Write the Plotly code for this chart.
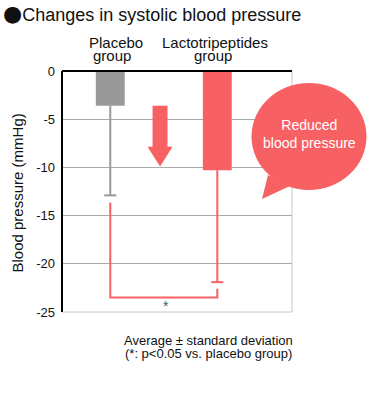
import plotly.graph_objects as go

# ---- data ----
groups = ["Placebo group", "Lactotripeptides group"]
group_line1 = ["Placebo", "Lactotripeptides"]
group_line2 = ["group", "group"]
mean_change = [-3.6, -10.3]
sd_change = [9.3, 11.6]
y_ticks = [0, -5, -10, -15, -20, -25]
bubble_text = "Reduced<br>blood pressure"
title_text = ("<span style='font-family:DejaVu Sans;font-size:22px'>●</span>"
              "Changes in systolic blood pressure")
y_title = "Blood pressure (mmHg)"
note_lines = ["Average ± standard deviation", "(*: p<0.05 vs. placebo group)"]
sig_mark = "*"

RED = "#F86163"
GRAY = "#999999"
FONT = "Liberation Sans, Arial, Helvetica, sans-serif"

W, H = 370, 400
PL, PR, PT, PB = 62, 292, 71, 312          # plot box in pixels
ML, MT = PL, PT
PW, PH = PR - PL, PB - PT
MR, MB = W - ML - PW, H - MT - PH


def px_x(px):
    return (px - PL) / PW


def px_y(py):
    return (PB - py) / PH


fig = go.Figure()
bar_colors = [GRAY, RED]
cap_half = 0.056
for i in range(2):
    fig.add_trace(go.Bar(
        x=[i], y=[mean_change[i]], width=0.27,
        marker=dict(color=bar_colors[i], line=dict(width=0)),
        name=groups[i], hoverinfo="skip", showlegend=False,
    ))
    low = mean_change[i] - sd_change[i]
    fig.add_trace(go.Scatter(
        x=[i, i, None, i - cap_half, i + cap_half],
        y=[mean_change[i], low, None, low, low],
        mode="lines", line=dict(color=bar_colors[i], width=2),
        hoverinfo="skip", showlegend=False,
    ))

# significance bracket (from error-bar ends)
low0 = mean_change[0] - sd_change[0]
low1 = mean_change[1] - sd_change[1]
bracket_bottom = -23.5
fig.add_trace(go.Scatter(
    x=[0, 0, 1, 1],
    y=[low0 - 0.75, bracket_bottom, bracket_bottom, low1 - 0.7],
    mode="lines", line=dict(color=RED, width=2),
    hoverinfo="skip", showlegend=False,
))

shapes = []
# plot frame
shapes.append(dict(type="line", xref="paper", yref="paper", x0=1, x1=1, y0=0, y1=1,
                   line=dict(color="#c8c8c8", width=1), layer="above"))
shapes.append(dict(type="line", xref="paper", yref="paper", x0=0, x1=1, y0=0, y1=0,
                   line=dict(color="#c8c8c8", width=1), layer="above"))
shapes.append(dict(type="line", xref="paper", yref="paper", x0=0, x1=1, y0=1, y1=1,
                   line=dict(color="#000000", width=2), layer="above"))
shapes.append(dict(type="line", xref="paper", yref="paper", x0=0, x1=0, y0=0, y1=1,
                   line=dict(color="#000000", width=2), layer="above"))

# downward arrow between bars
xc, sw, hw = 0.465, 0.07, 0.117
y_top, y_head, y_tip = mean_change[0], -7.85, -9.9
arrow_path = (f"M {xc - sw} {y_top} L {xc + sw} {y_top} L {xc + sw} {y_head} "
              f"L {xc + hw} {y_head} L {xc} {y_tip} L {xc - hw} {y_head} "
              f"L {xc - sw} {y_head} Z")
shapes.append(dict(type="path", xref="x", yref="y", path=arrow_path,
                   fillcolor=RED, line=dict(width=0), layer="above"))

# speech bubble
shapes.append(dict(type="circle", xref="paper", yref="paper",
                   x0=px_x(251.5), x1=px_x(366.5), y0=px_y(190), y1=px_y(83),
                   fillcolor=RED, line=dict(width=0), layer="above"))
tail = (f"M {px_x(262)} {px_y(199)} L {px_x(268)} {px_y(175)} "
        f"L {px_x(290)} {px_y(186)} Z")
shapes.append(dict(type="path", xref="paper", yref="paper", path=tail,
                   fillcolor=RED, line=dict(width=0), layer="above"))

annotations = []
annotations.append(dict(text=bubble_text, xref="paper", yref="paper",
                        x=px_x(309), y=px_y(133.5), xanchor="center", yanchor="middle",
                        showarrow=False, font=dict(size=14, color="white", family=FONT)))
annotations.append(dict(text=sig_mark, xref="x", yref="y", x=0.52, y=-24.4,
                        showarrow=False, font=dict(size=14, color="#555555", family=FONT)))
# group labels above bars
label_pos = [((116.3, 43.0), (112.2, 55.0)), ((214.7, 43.0), (213.0, 55.0))]
for i in range(2):
    (x1, y1), (x2, y2) = label_pos[i]
    annotations.append(dict(text=group_line1[i], xref="paper", yref="paper",
                            x=px_x(x1), y=px_y(y1), xanchor="center", yanchor="middle",
                            showarrow=False, font=dict(size=15, color="#111", family=FONT)))
    annotations.append(dict(text=group_line2[i], xref="paper", yref="paper",
                            x=px_x(x2), y=px_y(y2), xanchor="center", yanchor="middle",
                            showarrow=False, font=dict(size=15, color="#111", family=FONT)))
# title
annotations.append(dict(text=title_text, xref="paper", yref="paper",
                        x=px_x(1), y=px_y(13.5), xanchor="left", yanchor="middle",
                        showarrow=False, font=dict(size=18, color="#111", family=FONT)))
# y axis title
annotations.append(dict(text=y_title, xref="paper", yref="paper",
                        x=px_x(16.5), y=px_y(193), xanchor="center", yanchor="middle",
                        textangle=-90, showarrow=False,
                        font=dict(size=15, color="#111", family=FONT)))
# notes
annotations.append(dict(text=note_lines[0], xref="paper", yref="paper",
                        x=px_x(121.7), y=px_y(340.8), xanchor="left", yanchor="middle",
                        showarrow=False, font=dict(size=13, color="#111", family=FONT)))
annotations.append(dict(text=note_lines[1], xref="paper", yref="paper",
                        x=px_x(122.5), y=px_y(353.7), xanchor="left", yanchor="middle",
                        showarrow=False, font=dict(size=13, color="#111", family=FONT)))

fig.update_layout(
    width=W, height=H,
    margin=dict(l=ML, r=MR, t=MT, b=MB, pad=0),
    paper_bgcolor="white", plot_bgcolor="white",
    barmode="overlay",
    font=dict(family=FONT, color="#111"),
    xaxis=dict(range=[-0.451, 1.698], showticklabels=False, showgrid=False,
               zeroline=False, showline=False, fixedrange=True),
    yaxis=dict(range=[-25, 0], tickvals=y_ticks, ticktext=[str(v) for v in y_ticks],
               showgrid=True, gridcolor="#aaaaaa", gridwidth=1, zeroline=False,
               showline=False, ticks="", ticklabelstandoff=6,
               tickfont=dict(size=13, color="#111", family=FONT), fixedrange=True),
    shapes=shapes, annotations=annotations,
    showlegend=False,
)

fig.write_html(
    "out.html",
    config={"displayModeBar": False, "staticPlot": True},
    post_script="document.body.style.margin='0';document.body.style.overflow='hidden';",
)
